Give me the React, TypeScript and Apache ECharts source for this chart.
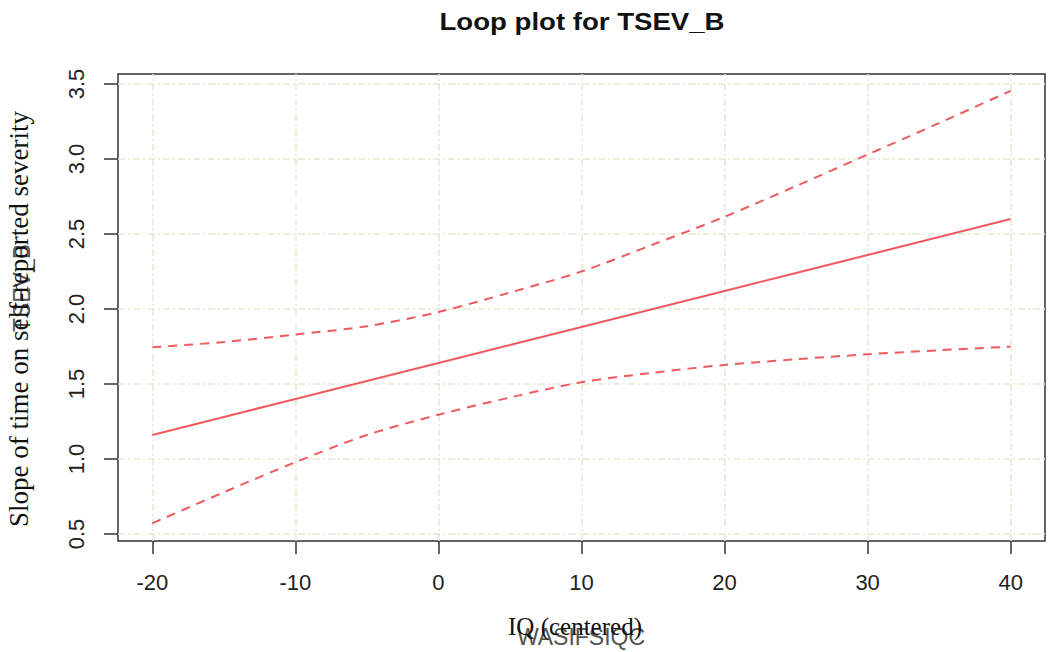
import React, { useEffect, useRef } from "react";
import * as echarts from "echarts";

const titleText = "Loop plot for TSEV_B";
const xTicks = [-20, -10, 0, 10, 20, 30, 40];
const yTicks = [0.5, 1.0, 1.5, 2.0, 2.5, 3.0, 3.5];
const xValues = [-20, -15, -10, -5, 0, 5, 10, 15, 20, 25, 30, 35, 40];
const slopeFit = [1.16, 1.28, 1.40, 1.52, 1.64, 1.76, 1.88, 2.0, 2.12, 2.24, 2.36, 2.48, 2.60];
const upperBand = [1.745, 1.78, 1.83, 1.885, 1.98, 2.11, 2.25, 2.43, 2.615, 2.82, 3.03, 3.24, 3.455];
const lowerBand = [0.571, 0.778, 0.978, 1.16, 1.295, 1.41, 1.512, 1.575, 1.627, 1.665, 1.698, 1.725, 1.749];

const RED = "#EE5A60";
const GRIDC = "#E8E8CF";

export default function App() {
  const ref = useRef<HTMLDivElement>(null);
  useEffect(() => {
    document.body.style.margin = "0";
    const chart = echarts.init(ref.current!, null, { renderer: "svg" });
    const pair = (ys: number[]) => xValues.map((x, i) => [x, ys[i]]);
    const gridLines = [
      ...xTicks.map((v) => ({ xAxis: v })),
      ...yTicks.map((v) => ({ yAxis: v })),
    ];
    chart.setOption({
      animation: false,
      backgroundColor: "#ffffff",
      grid: {
        left: 118,
        right: 5,
        top: 74,
        bottom: 111,
        show: true,
        borderColor: "#333",
        borderWidth: 1.5,
        backgroundColor: "transparent",
      },
      xAxis: {
        type: "value",
        min: -22.4,
        max: 42.4,
        axisLine: { show: false, onZero: false },
        splitLine: { show: false },
        axisTick: {
          show: true,
          customValues: xTicks,
          length: 13,
          lineStyle: { color: "#333", width: 1.5 },
        },
        axisLabel: {
          customValues: xTicks,
          margin: 30,
          fontFamily: "Liberation Sans",
          fontSize: 22,
          color: "#222",
          formatter: (v: number) => String(v),
        },
      },
      yAxis: {
        type: "value",
        min: 0.453,
        max: 3.567,
        axisLine: { show: false, onZero: false },
        splitLine: { show: false },
        axisTick: {
          show: true,
          customValues: yTicks,
          length: 14,
          lineStyle: { color: "#333", width: 1.5 },
        },
        axisLabel: {
          customValues: yTicks,
          rotate: 90,
          margin: 31,
          fontFamily: "Liberation Sans",
          fontSize: 22,
          color: "#222",
          formatter: (v: number) => v.toFixed(1),
        },
      },
      series: [
        {
          type: "line",
          data: pair(slopeFit),
          showSymbol: false,
          symbol: "none",
          lineStyle: { color: RED, width: 2 },
          z: 3,
          markLine: {
            silent: true,
            symbol: "none",
            label: { show: false },
            lineStyle: { color: GRIDC, type: [7, 3, 2, 3], width: 1.5 },
            data: gridLines,
            z: 1,
          },
        },
        {
          type: "line",
          data: pair(upperBand),
          smooth: 0.3,
          showSymbol: false,
          symbol: "none",
          lineStyle: { color: RED, width: 2, type: [9, 7] },
          z: 3,
        },
        {
          type: "line",
          data: pair(lowerBand),
          smooth: 0.3,
          showSymbol: false,
          symbol: "none",
          lineStyle: { color: RED, width: 2, type: [9, 7] },
          z: 3,
        },
      ],
      graphic: [
        {
          type: "text",
          x: 582,
          y: 22,
          scaleX: 1.2,
          style: {
            text: titleText,
            fontFamily: "Liberation Sans",
            fontWeight: "bold",
            fontSize: 23,
            fill: "#111",
            textAlign: "center",
            textVerticalAlign: "middle",
          },
        },
        {
          type: "text",
          x: 22,
          y: 288,
          rotation: Math.PI / 2,
          style: {
            text: "TSEV_B",
            fontFamily: "Liberation Sans",
            fontSize: 23,
            fill: "#555",
            textAlign: "center",
            textVerticalAlign: "middle",
          },
        },
        {
          type: "text",
          x: 19,
          y: 319,
          rotation: Math.PI / 2,
          style: {
            text: "Slope of time on self-reported severity",
            fontFamily: "Liberation Serif",
            fontSize: 27,
            fill: "#111",
            textAlign: "center",
            textVerticalAlign: "middle",
          },
        },
        {
          type: "text",
          x: 581,
          y: 637,
          style: {
            text: "WASIFSIQC",
            fontFamily: "Liberation Sans",
            fontSize: 23,
            fill: "#555",
            textAlign: "center",
            textVerticalAlign: "middle",
          },
        },
        {
          type: "text",
          x: 575,
          y: 626,
          style: {
            text: "IQ (centered)",
            fontFamily: "Liberation Serif",
            fontSize: 25,
            fill: "#111",
            textAlign: "center",
            textVerticalAlign: "middle",
          },
        },
      ],
    });
    return () => chart.dispose();
  }, []);
  return <div ref={ref} style={{ width: 1050, height: 652 }} />;
}
